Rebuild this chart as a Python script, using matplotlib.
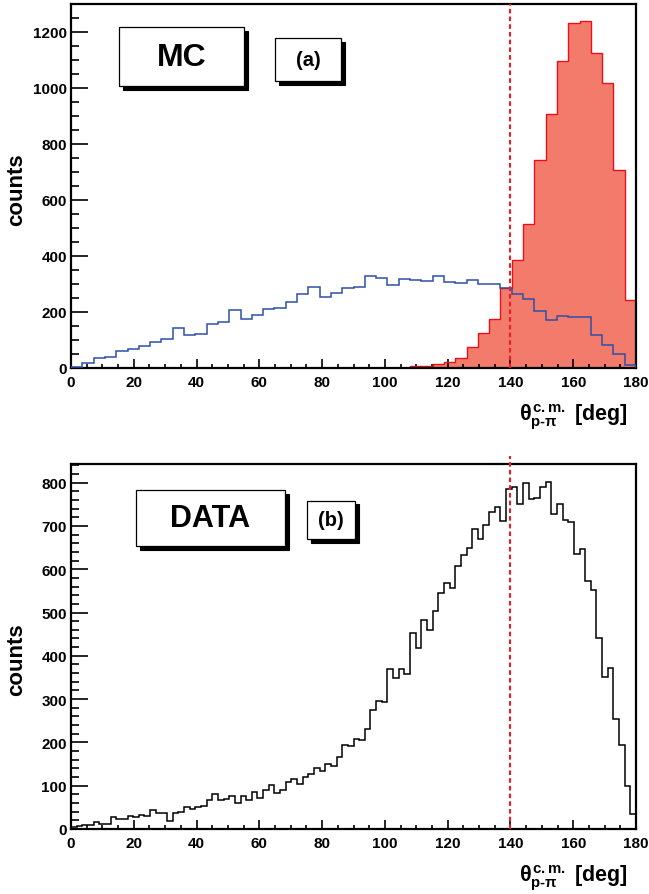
import numpy as np
import matplotlib
matplotlib.use("Agg")
import matplotlib.pyplot as plt
from matplotlib.patches import Rectangle
from matplotlib.ticker import MultipleLocator

plt.rcParams['font.family'] = ['Liberation Sans', 'DejaVu Sans']
plt.rcParams['font.weight'] = 'bold'
plt.rcParams['mathtext.fontset'] = 'custom'
plt.rcParams['mathtext.rm'] = 'Liberation Sans'
plt.rcParams['mathtext.bf'] = 'Liberation Sans:bold'
plt.rcParams['mathtext.it'] = 'Liberation Sans'

# ---- data ----
mc_edges = np.linspace(0, 180, 51)
mc_blue = [5, 19, 35, 41, 61, 67, 80, 94, 105, 142, 117, 123, 158, 166, 206, 174, 188,
           212, 214, 236, 266, 291, 255, 267, 284, 289, 330, 323, 298, 317, 316, 309,
           328, 307, 305, 313, 301, 299, 286, 266, 245, 204, 172, 187, 182, 182, 119,
           82, 50, 12]
mc_red = [0] * 30 + [6, 8, 13, 20, 37, 76, 125, 176, 284, 385, 513, 744, 906, 1098,
                     1232, 1238, 1126, 1017, 706, 242]

data_edges = np.linspace(0, 180, 101)
data_counts = [4, 8, 10, 10, 16, 12, 12, 27, 23, 22, 31, 28, 32, 31, 43, 38, 36, 19, 38, 40,
               51, 47, 50, 52, 67, 80, 66, 70, 76, 59, 77, 67, 86, 72,
               89, 102, 83, 89, 109, 116, 103, 120, 126, 141, 133, 151, 145, 166, 195, 192,
               209, 206, 230, 275, 296, 293, 369, 348, 369, 357, 452, 418, 482, 460, 503,
               544, 569,
               556, 608, 633, 649, 692, 669, 703, 733, 744, 711, 786, 791, 751, 800, 763,
               765, 789, 802, 727, 750, 714, 709, 634, 647, 573, 553, 441, 350, 371, 255,
               194, 100, 35]
cut_value = 140
xlabel = r'$\theta^{\mathbf{c{.}m{.}}}_{\mathbf{p\text{-}}\pi}$ [deg]'
ylabel = 'counts'

W, H = 649, 895
fig = plt.figure(figsize=(W / 100, H / 100), dpi=100)


def fx(x):
    return x / W


def fy(y):
    return 1 - y / H


ax1 = fig.add_axes([fx(71), fy(369), fx(636) - fx(71), fy(5) - fy(369)])
ax2 = fig.add_axes([fx(71), fy(830), fx(636) - fx(71), fy(465) - fy(830)])

# top panel
ax1.stairs(mc_red, mc_edges, fill=True, color='#f27b6c', zorder=1)
ax1.stairs(mc_red, mc_edges, color='#e8101a', lw=1.0, zorder=2)
ax1.stairs(mc_blue, mc_edges, color='#2f4fa8', lw=1.1, zorder=3)
ax1.set_ylim(0, 1300)
ax1.yaxis.set_major_locator(MultipleLocator(200))
ax1.yaxis.set_minor_locator(MultipleLocator(50))

# bottom panel
ax2.stairs(data_counts, data_edges, color='black', lw=1.1, zorder=3)
ax2.set_ylim(0, 843)
ax2.yaxis.set_major_locator(MultipleLocator(100))
ax2.yaxis.set_minor_locator(MultipleLocator(20))

for ax, ytop in ((ax1, 1300), (ax2, 862)):
    ax.set_xlim(0, 180)
    ax.xaxis.set_major_locator(MultipleLocator(20))
    ax.xaxis.set_minor_locator(MultipleLocator(5))
    ax.tick_params(axis='both', which='both', direction='in', top=False, right=False,
                   labelsize=11, width=1.2)
    ax.tick_params(axis='y', which='major', length=12.5, pad=3)
    ax.tick_params(axis='y', which='minor', length=6)
    ax.tick_params(axis='x', which='major', length=6.5, pad=5)
    ax.tick_params(axis='x', which='minor', length=3)
    for lab in ax.get_xticklabels() + ax.get_yticklabels():
        lab.set_fontweight('bold')
    for s in ax.spines.values():
        s.set_linewidth(1.6)
        s.set_color('black')
    ax.plot([cut_value, cut_value], [0, ytop], color='#ee1c25', lw=1.5,
            ls=(0, (2.2, 1.5)), clip_on=False, zorder=5)

# labels
for ycen, ylab in ((417, 190), (878, 660)):
    fig.text(fx(628), fy(ycen), xlabel, ha='right', va='center', fontsize=15.5,
             fontweight='bold')
    fig.text(fx(17), fy(ylab), ylabel, rotation=90, ha='center', va='center',
             fontsize=16, fontweight='bold')


def box(x0, y0, x1, y1, text, size, sh=3.5):
    fig.add_artist(Rectangle((fx(x0 + sh), fy(y1 + sh)), fx(x1 - x0), fy(y0) - fy(y1),
                             transform=fig.transFigure, facecolor='black',
                             edgecolor='black', lw=0.8))
    fig.add_artist(Rectangle((fx(x0), fy(y1)), fx(x1 - x0), fy(y0) - fy(y1),
                             transform=fig.transFigure, facecolor='white',
                             edgecolor='black', lw=0.9))
    fig.text(fx((x0 + x1) / 2), fy((y0 + y1) / 2), text, ha='center', va='center',
             fontsize=size, fontweight='bold')


box(119, 28, 244, 87, 'MC', 23)
box(275, 39, 341, 82, '(a)', 14.5)
box(136, 491, 285, 547, 'DATA', 22)
box(307, 502, 355, 540, '(b)', 14.5)

fig.savefig('out.png', dpi=100)
